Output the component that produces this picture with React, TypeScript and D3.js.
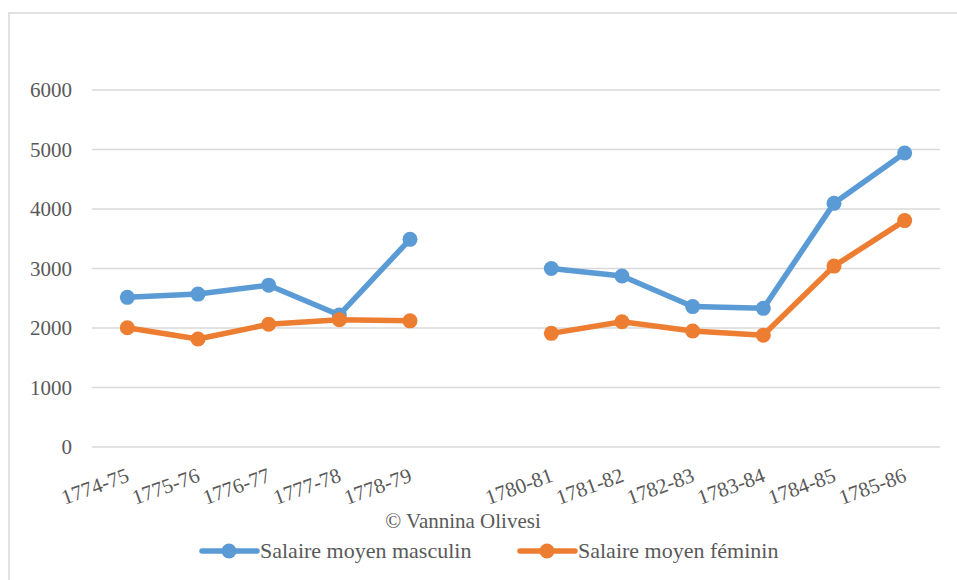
import React from "react";
import * as d3 from "d3";

const periods = [
  "1774-75", "1775-76", "1776-77", "1777-78", "1778-79", "1779-80",
  "1780-81", "1781-82", "1782-83", "1783-84", "1784-85", "1785-86",
];
// label shown under each category (the missing year has none)
const periodLabels = [
  "1774-75", "1775-76", "1776-77", "1777-78", "1778-79", "",
  "1780-81", "1781-82", "1782-83", "1783-84", "1784-85", "1785-86",
];
const masculin = [2515, 2570, 2720, 2220, 3490, null, 3000, 2875, 2360, 2330, 4095, 4940];
const feminin = [2005, 1815, 2062, 2140, 2120, null, 1910, 2105, 1950, 1880, 3040, 3805];
const yTicks = [0, 1000, 2000, 3000, 4000, 5000, 6000];

const width = 957;
const height = 580;
const margin = { left: 92, right: 17, top: 90, bottom: 133 };
const font = "'Liberation Serif', 'Times New Roman', serif";
const textColor = "#595959";
const blue = "#5B9BD5";
const orange = "#ED7D31";

const x = d3
  .scaleBand()
  .domain(periods)
  .range([margin.left, width - margin.right]);
const y = d3
  .scaleLinear()
  .domain([0, 6000])
  .range([height - margin.bottom, margin.top]);

const cx = (p) => x(p) + x.bandwidth() / 2;

const lineGen = d3
  .line()
  .defined((d) => d[1] != null)
  .x((d) => cx(d[0]))
  .y((d) => y(d[1]));

const txt = { fontFamily: font, fill: textColor };

const Series = ({ values, color }) => {
  const pts = periods.map((p, i) => [p, values[i]]);
  return (
    <g>
      <path d={lineGen(pts)} fill="none" stroke={color} strokeWidth={5.5} strokeLinejoin="round" />
      {pts
        .filter((d) => d[1] != null)
        .map((d) => (
          <circle key={d[0]} cx={cx(d[0])} cy={y(d[1])} r={7.5} fill={color} />
        ))}
    </g>
  );
};

const LegendItem = ({ x0, color, label }) => (
  <g>
    <line x1={x0} x2={x0 + 55} y1={551} y2={551} stroke={color} strokeWidth={5.5} strokeLinecap="round" />
    <circle cx={x0 + 27} cy={551} r={7.5} fill={color} />
    <text x={x0 + 58} y={558} fontSize={22} style={txt}>
      {label}
    </text>
  </g>
);

export default function App() {
  return (
    <svg
      width={width}
      height={height}
      style={{ position: "absolute", left: 0, top: 0, background: "#fff" }}
    >
      <rect x={9} y={13} width={width + 20} height={height + 20} fill="#fff" stroke="#d9d9d9" strokeWidth={1.5} />
      {yTicks.map((t) => (
        <g key={t}>
          <line
            x1={margin.left}
            x2={width - margin.right}
            y1={y(t)}
            y2={y(t)}
            stroke="#d9d9d9"
            strokeWidth={1.5}
          />
          <text x={72} y={y(t) + 7} textAnchor="end" fontSize={21} style={txt}>
            {t}
          </text>
        </g>
      ))}
      {periods.map((p, i) => (
        <text
          key={p}
          transform={`translate(${cx(p) + 3},${481}) rotate(-20)`}
          textAnchor="end"
          fontSize={21}
          style={txt}
        >
          {periodLabels[i]}
        </text>
      ))}
      <Series values={masculin} color={blue} />
      <Series values={feminin} color={orange} />
      <text x={463} y={528} textAnchor="middle" fontSize={21} style={txt}>
        © Vannina Olivesi
      </text>
      <LegendItem x0={202} color={blue} label="Salaire moyen masculin" />
      <LegendItem x0={520} color={orange} label="Salaire moyen féminin" />
    </svg>
  );
}
